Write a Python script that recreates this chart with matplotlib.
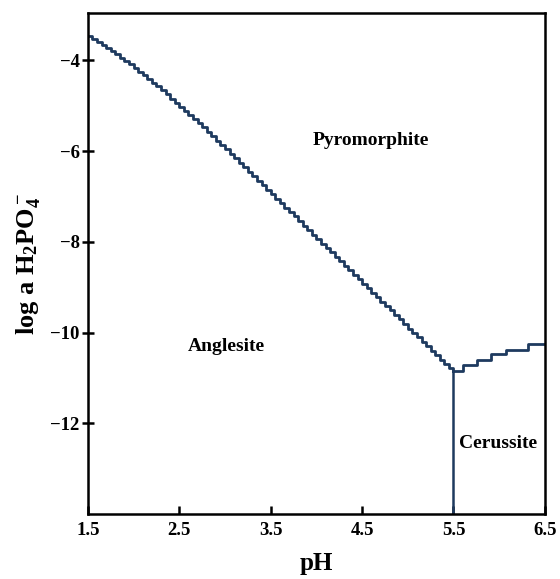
import numpy as np
import matplotlib
matplotlib.use('Agg')
import matplotlib.pyplot as plt

# boundary anglesite / pyromorphite (0.05 pH steps)
ph_left = np.round(np.arange(1.5, 5.501, 0.05), 2)
logp_left = [-3.47, -3.53, -3.60, -3.66, -3.73, -3.80, -3.87, -3.94, -4.02, -4.09,
             -4.17, -4.25, -4.33, -4.41, -4.49, -4.57, -4.66, -4.75, -4.84, -4.93,
             -5.02, -5.11, -5.20, -5.29, -5.38, -5.47, -5.57, -5.67, -5.77, -5.86,
             -5.96, -6.06, -6.16, -6.26, -6.36, -6.46, -6.55, -6.65, -6.75, -6.85,
             -6.95, -7.05, -7.15, -7.25, -7.34, -7.44, -7.54, -7.64, -7.74, -7.84,
             -7.94, -8.04, -8.13, -8.23, -8.33, -8.43, -8.53, -8.63, -8.72, -8.82,
             -8.92, -9.02, -9.12, -9.22, -9.32, -9.41, -9.51, -9.61, -9.71, -9.81,
             -9.91, -10.01, -10.10, -10.20, -10.30, -10.40, -10.50, -10.60, -10.69, -10.79,
             -10.85]

# boundary cerussite / pyromorphite
ph_right = [5.5, 5.6, 5.76, 5.91, 6.07, 6.32, 6.5]
logp_right = [-10.85, -10.72, -10.61, -10.48, -10.39, -10.26, -10.26]

# boundary anglesite / cerussite
ph_vert = [5.5, 5.5]
logp_vert = [-10.85, -14.0]

xticks = [1.5, 2.5, 3.5, 4.5, 5.5, 6.5]
yticks = [-4, -6, -8, -10, -12]

labels = ['Pyromorphite', 'Anglesite', 'Cerussite']
label_x = [4.60, 3.02, 5.99]
label_y = [-5.76, -10.31, -12.44]

plt.rcParams['font.family'] = 'Liberation Serif'
plt.rcParams['font.weight'] = 'bold'
plt.rcParams['mathtext.fontset'] = 'custom'
plt.rcParams['mathtext.rm'] = 'Liberation Serif:bold'
plt.rcParams['mathtext.it'] = 'Liberation Serif:bold'
plt.rcParams['mathtext.bf'] = 'Liberation Serif:bold'

line_color = '#1e3a5f'

fig = plt.figure(figsize=(5.6, 5.79), dpi=100)
ax = fig.add_axes([0.157, 0.112, 0.816, 0.866])

ax.step(ph_left, logp_left, where='post', color=line_color, lw=2.0)
ax.step(ph_right, logp_right, where='post', color=line_color, lw=2.0)
ax.plot(ph_vert, logp_vert, color=line_color, lw=1.8)

for name, x, y in zip(labels, label_x, label_y):
    ax.text(x, y, name, ha='center', va='center', fontsize=14, fontweight='bold')

ax.set_xlim(1.5, 6.5)
ax.set_ylim(-14.0, -2.95)
ax.set_xticks(xticks)
ax.set_xticklabels(['%.1f' % t for t in xticks])
ax.set_yticks(yticks)
ax.set_yticklabels(['\u2212%d' % -t for t in yticks])

ax.tick_params(axis='x', direction='in', length=6, width=1.8, labelsize=13.5, pad=6)
ax.tick_params(axis='y', direction='inout', length=8, width=1.8, labelsize=13.5, pad=2)
for lab in ax.get_xticklabels() + ax.get_yticklabels():
    lab.set_fontweight('bold')
for sp in ax.spines.values():
    sp.set_linewidth(1.8)

ax.set_xlabel('pH', fontsize=18, fontweight='bold', labelpad=9)
ax.set_ylabel(r'log a H$_2$PO$_4^-$', fontsize=19, fontweight='bold', labelpad=6)

fig.savefig('out.png', dpi=100)
